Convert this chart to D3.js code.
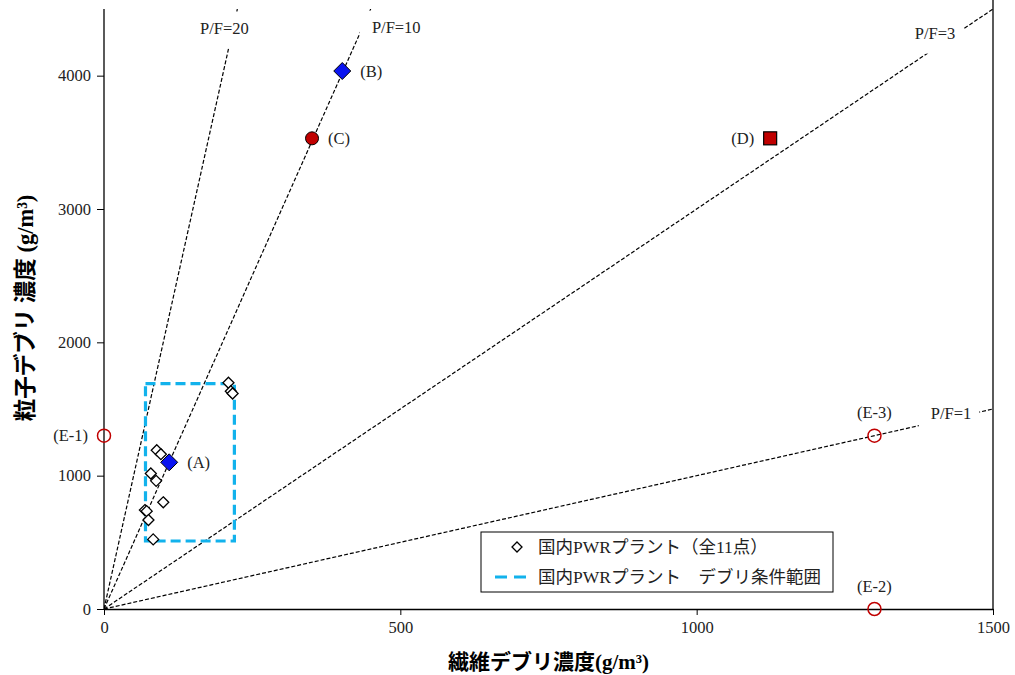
<!DOCTYPE html>
<html>
<head>
<meta charset="utf-8">
<script src="https://cdn.jsdelivr.net/npm/d3@7"></script>
<style>
  html, body { margin: 0; padding: 0; background: #fff; }
  svg { display: block; }
</style>
</head>
<body>
<svg id="chart" width="1015" height="675"></svg>
<script>
// ---- data ----
// Domestic PWR plants: fiber debris (x) vs particulate debris (y), g/m3
const plantFiber    = [210, 214, 217, 89, 96, 79, 88, 100, 69, 72, 75, 83];
const plantParticle = [1697, 1633, 1616, 1191, 1161, 1016, 961, 800, 742, 734, 667, 522];

// Debris condition range for domestic PWR plants
const rangeFiber    = [70, 220];
const rangeParticle = [510, 1690];

// Test cases
const caseNames    = ["(A)", "(B)", "(C)", "(D)", "(E-1)", "(E-2)", "(E-3)"];
const caseFiber    = [110, 402, 351, 1124, 0, 1300, 1300];
const caseParticle = [1100, 4035, 3530, 3530, 1300, 0, 1300];
const caseShape    = ["diamond", "diamond", "circle", "square", "ring", "ring", "ring"];

// P/F ratio guide lines
const ratioValues = [20, 10, 3, 1];
const ratioLabels = ["P/F=20", "P/F=10", "P/F=3", "P/F=1"];

// Axis ticks
const xTicks = [0, 500, 1000, 1500];
const yTicks = [0, 1000, 2000, 3000, 4000];

// ---- layout ----
const W = 1015, H = 675;
const margin = { top: 9, right: 22, bottom: 66, left: 104 };
const svg = d3.select("#chart");
const serif = "'Liberation Serif', 'Times New Roman', serif";
const jpFont = "'Liberation Serif', 'Noto Sans CJK JP', serif";
const fs = 16.5;

const x = d3.scaleLinear().domain([0, 1500]).range([margin.left, W - margin.right]);
const y = d3.scaleLinear().domain([0, 4500]).range([H - margin.bottom, margin.top]);

// ratio label anchor (data units) and point-label offsets (px)
const ratioLabelAt = [[162, 4352], [452, 4360], [1368, 4315], [1395, 1468]];
const caseLabelOffset = [[18, 0, "start"], [18, 0, "start"], [16, 0, "start"], [-16, 0, "end"],
                         [-16, 0, "end"], [0, -23, "middle"], [0, -23, "middle"]];

svg.append("defs").append("clipPath").attr("id", "plotClip")
  .append("rect")
  .attr("x", margin.left).attr("y", margin.top)
  .attr("width", W - margin.left - margin.right)
  .attr("height", H - margin.top - margin.bottom);

// ---- ratio lines ----
const lines = svg.append("g").attr("clip-path", "url(#plotClip)");
ratioValues.forEach(r => {
  const xEnd = Math.min(1500, 4500 / r);
  lines.append("line")
    .attr("x1", x(0)).attr("y1", y(0))
    .attr("x2", x(xEnd)).attr("y2", y(xEnd * r))
    .attr("stroke", "#000").attr("stroke-width", 1.2)
    .attr("stroke-dasharray", "4,2");
});

// ratio labels with white backing boxes
ratioLabels.forEach((t, i) => {
  const g = svg.append("g");
  const txt = g.append("text")
    .attr("x", x(ratioLabelAt[i][0])).attr("y", y(ratioLabelAt[i][1]))
    .attr("dominant-baseline", "central")
    .attr("font-family", serif).attr("font-size", fs).attr("fill", "#222")
    .text(t);
  const bb = txt.node().getBBox();
  g.insert("rect", "text")
    .attr("x", bb.x - 12).attr("y", bb.y + bb.height / 2 - 17)
    .attr("width", bb.width + 20).attr("height", 37)
    .attr("fill", "#fff");
});

// ---- axes ----
const fmt = d3.format("d");
const xAxis = svg.append("g")
  .attr("transform", `translate(0,${y(0)})`)
  .call(d3.axisBottom(x).tickValues(xTicks).tickFormat(fmt).tickSize(6).tickSizeOuter(0).tickPadding(6));
const yAxis = svg.append("g")
  .attr("transform", `translate(${x(0)},0)`)
  .call(d3.axisLeft(y).tickValues(yTicks).tickFormat(fmt).tickSize(7).tickSizeOuter(0).tickPadding(6));
[xAxis, yAxis].forEach(a => {
  a.select(".domain").attr("stroke", "#000").attr("stroke-width", 1.3);
  a.selectAll(".tick line").attr("stroke", "#000");
  a.selectAll(".tick text").attr("font-family", serif).attr("font-size", fs).attr("fill", "#222");
});
// y-axis domain extended to the top edge; right frame line
yAxis.select(".domain").attr("d", `M0,${y(0)}V${margin.top}`);
svg.append("line")
  .attr("x1", x(1500)).attr("x2", x(1500))
  .attr("y1", 0).attr("y2", y(0))
  .attr("stroke", "#000").attr("stroke-width", 1.3);

// ---- PWR condition range (dashed rectangle) ----
svg.append("rect")
  .attr("x", x(rangeFiber[0])).attr("y", y(rangeParticle[1]))
  .attr("width", x(rangeFiber[1]) - x(rangeFiber[0]))
  .attr("height", y(rangeParticle[0]) - y(rangeParticle[1]))
  .attr("fill", "none").attr("stroke", "#12b2ec")
  .attr("stroke-width", 3.2).attr("stroke-dasharray", "10,5");

// ---- domestic PWR plant points ----
const diamond = (cx, cy, r) => `M${cx},${cy - r}L${cx + r},${cy}L${cx},${cy + r}L${cx - r},${cy}Z`;
svg.append("g").selectAll("path")
  .data(plantFiber.map((f, i) => [f, plantParticle[i]]))
  .join("path")
  .attr("d", d => diamond(x(d[0]), y(d[1]), 5.5))
  .attr("fill", "#fff").attr("stroke", "#000").attr("stroke-width", 1.3);

// ---- test cases ----
const cases = svg.append("g");
caseNames.forEach((n, i) => {
  const cx = x(caseFiber[i]), cy = y(caseParticle[i]);
  const s = caseShape[i];
  if (s === "diamond") {
    cases.append("path").attr("d", diamond(cx, cy, 8.5))
      .attr("fill", "#0a14f0").attr("stroke", "#000").attr("stroke-width", 1);
  } else if (s === "circle") {
    cases.append("circle").attr("cx", cx).attr("cy", cy).attr("r", 6.5)
      .attr("fill", "#c00000").attr("stroke", "#000").attr("stroke-width", 1);
  } else if (s === "square") {
    cases.append("rect").attr("x", cx - 6.5).attr("y", cy - 6.5)
      .attr("width", 13).attr("height", 13)
      .attr("fill", "#c00000").attr("stroke", "#000").attr("stroke-width", 1.2);
  } else {
    cases.append("circle").attr("cx", cx).attr("cy", cy).attr("r", 6.5)
      .attr("fill", "none").attr("stroke", "#c00000").attr("stroke-width", 1.5);
  }
  const o = caseLabelOffset[i];
  cases.append("text")
    .attr("x", cx + o[0]).attr("y", cy + o[1])
    .attr("text-anchor", o[2]).attr("dominant-baseline", "central")
    .attr("font-family", serif).attr("font-size", fs).attr("fill", "#222")
    .text(n);
});

// ---- legend ----
const lg = svg.append("g").attr("transform", "translate(481,532)");
lg.append("rect").attr("width", 352).attr("height", 60)
  .attr("fill", "#fff").attr("stroke", "#000").attr("stroke-width", 1);
lg.append("path").attr("d", diamond(36, 15, 5))
  .attr("fill", "#fff").attr("stroke", "#000").attr("stroke-width", 1.3);
lg.append("line").attr("x1", 14).attr("x2", 50).attr("y1", 45).attr("y2", 45)
  .attr("stroke", "#12b2ec").attr("stroke-width", 3.2).attr("stroke-dasharray", "12,7");
lg.append("text").attr("x", 57).attr("y", 15).attr("dominant-baseline", "central")
  .attr("font-family", jpFont).attr("font-size", 17.5).attr("fill", "#222")
  .text("国内PWRプラント（全11点）");
lg.append("text").attr("x", 57).attr("y", 45).attr("dominant-baseline", "central")
  .attr("font-family", jpFont).attr("font-size", 17.5).attr("fill", "#222")
  .text("国内PWRプラント　デブリ条件範囲");

// ---- axis titles ----
svg.append("text")
  .attr("x", (x(0) + x(1500)) / 2).attr("y", 662)
  .attr("text-anchor", "middle").attr("dominant-baseline", "central")
  .attr("font-family", jpFont).attr("font-size", 21).attr("font-weight", "bold")
  .text("繊維デブリ濃度(g/m³)");
svg.append("text")
  .attr("transform", `translate(25,${308}) rotate(-90)`)
  .attr("text-anchor", "middle").attr("dominant-baseline", "central")
  .attr("font-family", jpFont).attr("font-size", 22.5).attr("font-weight", "bold")
  .text("粒子デブリ 濃度 (g/m³)");
</script>
</body>
</html>
